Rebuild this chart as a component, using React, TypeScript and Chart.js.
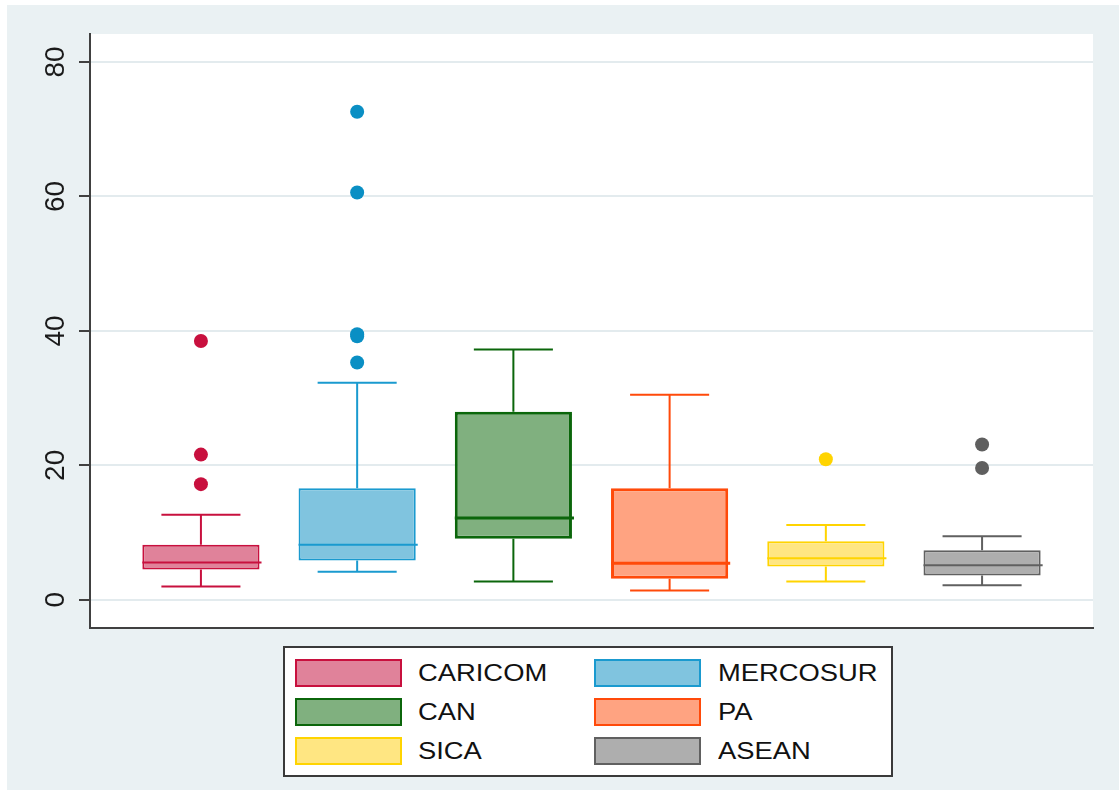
import React, { useEffect, useRef } from 'react';
import { Chart, registerables } from 'chart.js';

Chart.register(...registerables);

// ---- data ----
const groups = ['CARICOM', 'MERCOSUR', 'CAN', 'PA', 'SICA', 'ASEAN'];
const lowerWhisker = [1.98, 4.16, 2.7, 1.37, 2.7, 2.16];
const q1 = [4.52, 5.86, 9.08, 3.12, 4.95, 3.61];
const median = [5.56, 8.17, 12.17, 5.43, 6.16, 5.13];
const q3 = [8.17, 16.6, 27.96, 16.6, 8.72, 7.38];
const upperWhisker = [12.66, 32.3, 37.25, 30.5, 11.14, 9.45];
const outlierGroup = [0, 0, 0, 1, 1, 1, 1, 1, 4, 5, 5];
const outlierValue = [38.5, 21.6, 17.2, 72.6, 60.6, 39.2, 39.5, 35.3, 20.9, 23.1, 19.6];
const yTicks = [0, 20, 40, 60, 80];

// ---- styles ----
const lineColors = ['#C8103E', '#1A9ACF', '#0B660B', '#FF4A0A', '#FFD400', '#606060'];
const fillColors = ['#E0829A', '#80C4DF', '#80B07F', '#FFA381', '#FFE682', '#AEAEAE'];
const dotColors = ['#C8103E', '#0A8FC4', '#0B660B', '#FF4A0A', '#FFD400', '#5F5F5F'];
const boxLineWidths = [2, 2, 3, 3, 2, 2];
const CAP_HALF = 0.253;
const FONT = "'Liberation Sans', Arial, Helvetica, sans-serif";
const BG = '#EAF1F3';

export default function App() {
  const ref = useRef<HTMLCanvasElement>(null);

  useEffect(() => {
    if (!ref.current) return;

    const boxParts = {
      id: 'boxParts',
      beforeDraw(chart: any) {
        const { ctx, chartArea: a } = chart;
        ctx.save();
        ctx.fillStyle = '#ffffff';
        ctx.fillRect(a.left, a.top, a.right - a.left, a.bottom - a.top);
        ctx.restore();
      },
      beforeDatasetsDraw(chart: any) {
        const { ctx } = chart;
        const xs = chart.scales.x;
        const ys = chart.scales.y;
        ctx.save();
        groups.forEach((_, i) => {
          const cx = xs.getPixelForValue(i + 1);
          const l = xs.getPixelForValue(i + 1 - CAP_HALF);
          const r = xs.getPixelForValue(i + 1 + CAP_HALF);
          const yHi = ys.getPixelForValue(upperWhisker[i]);
          const yLo = ys.getPixelForValue(lowerWhisker[i]);
          const yQ3 = ys.getPixelForValue(q3[i]);
          const yQ1 = ys.getPixelForValue(q1[i]);
          ctx.strokeStyle = lineColors[i];
          ctx.lineWidth = 2;
          ctx.beginPath();
          ctx.moveTo(cx, yQ3);
          ctx.lineTo(cx, yHi);
          ctx.moveTo(l, yHi);
          ctx.lineTo(r, yHi);
          ctx.moveTo(cx, yQ1);
          ctx.lineTo(cx, yLo);
          ctx.moveTo(l, yLo);
          ctx.lineTo(r, yLo);
          ctx.stroke();
        });
        ctx.restore();
      },
      afterDatasetsDraw(chart: any) {
        const { ctx } = chart;
        const ys = chart.scales.y;
        const meta = chart.getDatasetMeta(0);
        ctx.save();
        groups.forEach((_, i) => {
          const bar = meta.data[i];
          if (!bar) return;
          const ym = ys.getPixelForValue(median[i]);
          ctx.strokeStyle = lineColors[i];
          ctx.lineWidth = boxLineWidths[i];
          ctx.beginPath();
          ctx.moveTo(bar.x - bar.width / 2, ym);
          ctx.lineTo(bar.x + bar.width / 2 + 2, ym);
          ctx.stroke();
        });
        ctx.restore();
      },
    };

    const chart = new Chart(ref.current, {
      type: 'bar',
      data: {
        datasets: [
          {
            type: 'bar',
            label: 'boxes',
            data: groups.map((_, i) => ({ x: i + 1, y: [q1[i], q3[i]] })) as any,
            backgroundColor: fillColors,
            borderColor: lineColors,
            borderWidth: boxLineWidths,
            borderSkipped: false,
            categoryPercentage: 1,
            barPercentage: 0.75,
          } as any,
          {
            type: 'scatter',
            label: 'outliers',
            data: outlierValue.map((v, k) => ({ x: outlierGroup[k] + 1, y: v })),
            pointRadius: 7,
            pointBorderWidth: 0,
            pointBackgroundColor: outlierGroup.map((g) => dotColors[g]),
            pointBorderColor: outlierGroup.map((g) => dotColors[g]),
          } as any,
        ],
      },
      options: {
        animation: false,
        responsive: true,
        maintainAspectRatio: false,
        events: [],
        layout: { padding: { top: 29, right: 26, bottom: 17, left: 0 } },
        plugins: {
          legend: { display: false },
          tooltip: { enabled: false },
        },
        scales: {
          x: {
            type: 'linear',
            min: 0.29,
            max: 6.71,
            offset: false,
            afterBuildTicks: (s: any) => {
              s.ticks = groups.map((_, i) => ({ value: i + 1 }));
            },
            ticks: { display: false },
            grid: { display: false, drawTicks: false },
            border: { display: true, color: '#404040', width: 2 },
            afterFit: (s: any) => {
              s.height = 0;
              s.paddingLeft = 0;
              s.paddingRight = 0;
            },
          },
          y: {
            type: 'linear',
            min: -4.2,
            max: 84.17,
            afterBuildTicks: (s: any) => {
              s.ticks = yTicks.map((v) => ({ value: v }));
            },
            afterFit: (s: any) => {
              s.width = 83;
              s.paddingTop = 0;
              s.paddingBottom = 0;
            },
            ticks: {
              minRotation: 90,
              maxRotation: 90,
              crossAlign: 'center',
              padding: 7,
              color: '#1a1a1a',
              font: { family: FONT, size: 28 },
            },
            grid: {
              color: '#E3EBEE',
              lineWidth: 2,
              tickLength: 11,
              tickColor: '#404040',
              tickWidth: 2,
            },
            border: { display: true, color: '#404040', width: 2 },
          },
        },
      } as any,
      plugins: [boxParts],
    });

    return () => chart.destroy();
  }, []);

  const swLeft = [10, 309];
  const txLeft = [133, 433];
  const rowTop = [11, 50, 89];

  return (
    <div
      style={{
        position: 'absolute',
        left: 7,
        top: 5,
        width: 1112,
        height: 785,
        background: BG,
        overflow: 'hidden',
      }}
    >
      <div style={{ position: 'absolute', left: 0, top: 0, width: 1112, height: 640 }}>
        <canvas ref={ref} />
      </div>
      <div
        style={{
          position: 'absolute',
          left: 276,
          top: 641,
          width: 610,
          height: 131,
          boxSizing: 'border-box',
          border: '2px solid #3a3a3a',
          background: '#ffffff',
        }}
      >
        {groups.map((g, i) => {
          const col = i % 2;
          const row = Math.floor(i / 2);
          return (
            <React.Fragment key={g}>
              <div
                style={{
                  position: 'absolute',
                  left: swLeft[col],
                  top: rowTop[row],
                  width: 107,
                  height: 28,
                  boxSizing: 'border-box',
                  border: `2px solid ${lineColors[i]}`,
                  background: fillColors[i],
                }}
              />
              <div
                style={{
                  position: 'absolute',
                  left: txLeft[col],
                  top: rowTop[row],
                  height: 28,
                  lineHeight: '28px',
                  fontFamily: FONT,
                  fontSize: 24,
                  color: '#111',
                  whiteSpace: 'nowrap',
                  transform: 'scaleX(1.14)',
                  transformOrigin: 'left center',
                }}
              >
                {g}
              </div>
            </React.Fragment>
          );
        })}
      </div>
    </div>
  );
}
